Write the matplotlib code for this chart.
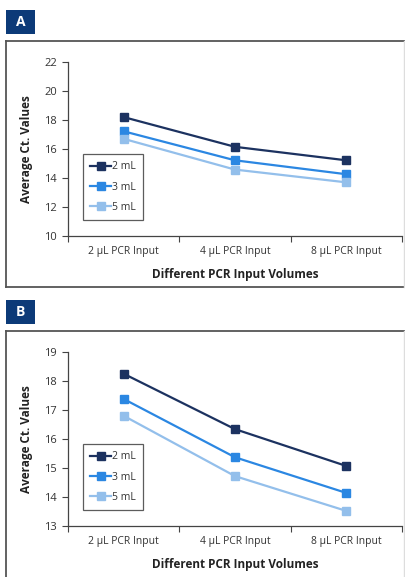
import matplotlib
matplotlib.use("Agg")
import matplotlib.pyplot as plt
from matplotlib.patches import Rectangle
from matplotlib.lines import Line2D

# Data
categories = ["2 µL PCR Input", "4 µL PCR Input", "8 µL PCR Input"]
series_names = ["2 mL", "3 mL", "5 mL"]
panel_a = {
    "2 mL": [18.2, 16.15, 15.22],
    "3 mL": [17.22, 15.22, 14.26],
    "5 mL": [16.7, 14.58, 13.7],
}
panel_b = {
    "2 mL": [18.25, 16.34, 15.07],
    "3 mL": [17.38, 15.37, 14.14],
    "5 mL": [16.8, 14.72, 13.52],
}
colors = {"2 mL": "#1c3260", "3 mL": "#2b87e2", "5 mL": "#93bfeb"}

W, H = 406, 577
fig = plt.figure(figsize=(W / 100, H / 100), dpi=100)
fig.patch.set_facecolor("white")
FONT = "Open Sans"
plt.rcParams["font.family"] = [FONT, "DejaVu Sans"]


def fx(px):
    return px / W


def fy(py):
    return 1 - py / H


def panel(letter, values, box_top, frame_top, frame_bottom, ax_top, ax_bottom,
          ylim, yticks, legend_top):
    # letter badge
    fig.patches.append(Rectangle((fx(6), fy(box_top + 24)), fx(29) , 24 / H,
                                 transform=fig.transFigure, facecolor="#0c3a78",
                                 edgecolor="none"))
    fig.text(fx(20.5), fy(box_top + 12), letter, color="white", fontsize=10,
             fontweight="bold", ha="center", va="center")
    # panel frame
    fc = "#555555"
    fig.add_artist(Line2D([fx(6), fx(405)], [fy(frame_top)] * 2, color=fc, lw=1.3,
                          transform=fig.transFigure))
    fig.add_artist(Line2D([fx(6), fx(6)], [fy(frame_top), fy(frame_bottom)], color=fc,
                          lw=1.3, transform=fig.transFigure))
    fig.add_artist(Line2D([fx(6), fx(405)], [fy(frame_bottom)] * 2, color=fc, lw=1.3,
                          transform=fig.transFigure))
    fig.add_artist(Line2D([fx(404), fx(404)], [fy(frame_top), fy(frame_bottom)],
                          color="#dddddd", lw=1.0, transform=fig.transFigure))

    ax = fig.add_axes([fx(68), fy(ax_bottom), fx(402 - 68), (ax_bottom - ax_top) / H])
    x = [0.5, 1.5, 2.5]
    handles = []
    for name in series_names:
        h, = ax.plot(x, values[name], color=colors[name], lw=1.6, marker="s",
                     markersize=5.5, label=name)
        handles.append(h)
    ax.set_xlim(0, 3)
    ax.set_ylim(*ylim)
    ax.set_yticks(yticks)
    ax.set_xticks([0, 1, 2, 3])
    ax.set_xticklabels([])
    ax.set_xticks(x, minor=True)
    ax.set_xticklabels(categories, minor=True)
    ax.tick_params(axis="x", which="minor", length=0, pad=7, labelsize=7.5,
                   labelcolor="#333333")
    ax.tick_params(axis="x", which="major", length=4, color="#444444", direction="out")
    ax.tick_params(axis="y", length=4, color="#444444", labelsize=8, pad=4,
                   labelcolor="#333333")
    for s in ("top", "right"):
        ax.spines[s].set_visible(False)
    for s in ("left", "bottom"):
        ax.spines[s].set_color("#444444")
        ax.spines[s].set_linewidth(0.9)
    ax.set_ylabel("Average Ct. Values", fontsize=8.5, fontweight="bold",
                  color="#222222", labelpad=8)
    ax.set_xlabel("Different PCR Input Volumes", fontsize=8.5, fontweight="bold",
                  color="#222222", labelpad=8)
    leg = ax.legend(handles=handles, loc="upper left",
                    bbox_to_anchor=(fx(83), fy(legend_top)),
                    bbox_transform=fig.transFigure, fontsize=7.5, frameon=True,
                    fancybox=False, handlelength=2.0, handletextpad=0.1,
                    labelspacing=0.9, borderpad=0.7, borderaxespad=0)
    leg.get_frame().set_edgecolor("#333333")
    leg.get_frame().set_linewidth(0.9)
    for t in leg.get_texts():
        t.set_color("#333333")
    return ax


panel("A", panel_a, 10, 41, 287, 62, 236, (10, 22), [10, 12, 14, 16, 18, 20, 22], 154)
panel("B", panel_b, 300, 331, 600, 352, 526, (13, 19), [13, 14, 15, 16, 17, 18, 19], 444)

fig.savefig("out.png", dpi=100)
